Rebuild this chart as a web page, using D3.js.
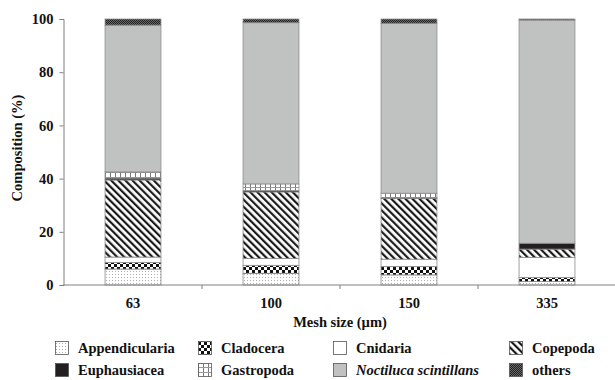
<!DOCTYPE html>
<html>
<head>
<meta charset="utf-8">
<script src="https://cdn.jsdelivr.net/npm/d3@7/dist/d3.min.js"></script>
<style>
  body { margin: 0; background: #fff; }
  svg { display: block; font-family: "Liberation Serif", "Times New Roman", serif; }
</style>
</head>
<body>
<div id="chart"></div>
<script>
// mesh sizes on the x axis
const meshSizes = ["63", "100", "150", "335"];
const groups = ["Appendicularia", "Cladocera", "Cnidaria", "Copepoda", "Euphausiacea", "Gastropoda", "Noctiluca scintillans", "others"];

// composition (%) per mesh size, bottom to top
const appendicularia = [6.0, 4.4, 3.8, 1.3];
const cladocera      = [2.5, 3.0, 3.2, 1.5];
const cnidaria       = [2.0, 2.6, 2.7, 7.6];
const copepoda       = [29.0, 25.0, 22.8, 3.1];
const euphausiacea   = [0.7, 0.5, 0.3, 2.2];
const gastropoda     = [2.3, 2.5, 1.7, 0.0];
const noctiluca      = [55.2, 60.6, 63.9, 83.9];
const others         = [2.3, 1.4, 1.6, 0.4];
const yTicks = [0, 20, 40, 60, 80, 100];

const series = [appendicularia, cladocera, cnidaria, copepoda, euphausiacea, gastropoda, noctiluca, others];
const rows = meshSizes.map((m, i) => {
    let r = {mesh: m};
    groups.forEach((g, j) => r[g] = series[j][i]);
    return r;
});

const W = 615, H = 380;
const FS = 14.5;
const svg = d3.select("#chart").append("svg").attr("width", W).attr("height", H);
const defs = svg.append("defs");

// fill patterns
let p;
p = defs.append("pattern").attr("id", "p0").attr("patternUnits", "userSpaceOnUse").attr("width", 3).attr("height", 3);
p.append("rect").attr("width", 3).attr("height", 3).attr("fill", "#fff");
p.append("rect").attr("x", 1).attr("y", 1).attr("width", 1).attr("height", 1).attr("fill", "#b0b0b0");

p = defs.append("pattern").attr("id", "p1").attr("patternUnits", "userSpaceOnUse").attr("width", 6).attr("height", 6);
p.append("rect").attr("width", 6).attr("height", 6).attr("fill", "#fff");
p.append("rect").attr("width", 3).attr("height", 3).attr("fill", "#111");
p.append("rect").attr("x", 3).attr("y", 3).attr("width", 3).attr("height", 3).attr("fill", "#111");

p = defs.append("pattern").attr("id", "p3").attr("patternUnits", "userSpaceOnUse").attr("width", 5).attr("height", 10)
    .attr("patternTransform", "rotate(-45)");
p.append("rect").attr("width", 5).attr("height", 10).attr("fill", "#fff");
p.append("rect").attr("width", 2.2).attr("height", 10).attr("fill", "#1a1a1a");

p = defs.append("pattern").attr("id", "p5").attr("patternUnits", "userSpaceOnUse").attr("width", 5).attr("height", 5);
p.append("rect").attr("width", 5).attr("height", 5).attr("fill", "#fff");
p.append("rect").attr("width", 1).attr("height", 5).attr("fill", "#777");
p.append("rect").attr("width", 5).attr("height", 1).attr("y", 2).attr("fill", "#999");

p = defs.append("pattern").attr("id", "p7").attr("patternUnits", "userSpaceOnUse").attr("width", 2).attr("height", 2);
p.append("rect").attr("width", 2).attr("height", 2).attr("fill", "#666");
p.append("rect").attr("width", 1).attr("height", 1).attr("fill", "#222");
p.append("rect").attr("x", 1).attr("y", 1).attr("width", 1).attr("height", 1).attr("fill", "#222");

const fills = ["url(#p0)", "url(#p1)", "#fff", "url(#p3)", "#231f20", "url(#p5)", "#c0c1c1", "url(#p7)"];

const x = d3.scaleBand().domain(meshSizes).range([64, 616]).paddingInner(0.595).paddingOuter(0.2975);
const y = d3.scaleLinear().domain([0, 100]).range([285, 19]);

const stacked = d3.stack().keys(groups)(rows);

svg.append("g").selectAll("g")
    .data(stacked)
    .enter().append("g")
    .attr("fill", (d, i) => fills[i])
    .selectAll("rect")
    .data(d => d.filter(s => s[1] - s[0] > 0))
    .enter().append("rect")
    .attr("x", d => x(d.data.mesh))
    .attr("width", x.bandwidth())
    .attr("y", d => y(d[1]))
    .attr("height", d => y(d[0]) - y(d[1]))
    .attr("stroke", "#8a8a8a")
    .attr("stroke-width", 0.8);

// y axis
const yAxis = svg.append("g").attr("transform", "translate(63.5,0)")
    .call(d3.axisLeft(y).tickValues(yTicks).tickSize(4).tickPadding(6));
yAxis.select(".domain").attr("stroke", "#808080");
yAxis.selectAll(".tick line").attr("stroke", "#808080");
yAxis.selectAll("text").attr("font-size", FS).attr("font-weight", "bold").attr("fill", "#111")
    .attr("font-family", "Liberation Serif");

// x axis: ticks between categories
const xg = svg.append("g").attr("transform", "translate(0,285)");
xg.append("line").attr("x1", 63).attr("x2", 616).attr("stroke", "#808080");
xg.selectAll(".sep").data(meshSizes.slice(1)).enter().append("line")
    .attr("x1", d => x(d) - x.step() * x.paddingInner() / 2)
    .attr("x2", d => x(d) - x.step() * x.paddingInner() / 2)
    .attr("y1", 0).attr("y2", 4).attr("stroke", "#808080");
xg.selectAll(".lab").data(meshSizes).enter().append("text")
    .attr("x", d => x(d) + x.bandwidth() / 2)
    .attr("y", 22.5)
    .attr("text-anchor", "middle")
    .attr("font-size", FS).attr("font-weight", "bold").attr("fill", "#111")
    .text(d => d);

svg.append("text").attr("x", 340).attr("y", 327).attr("text-anchor", "middle")
    .attr("font-size", FS).attr("font-weight", "bold").attr("fill", "#111")
    .text("Mesh size (\u00b5m)");

svg.append("text").attr("transform", "translate(22,148) rotate(-90)").attr("text-anchor", "middle")
    .attr("font-size", FS).attr("font-weight", "bold").attr("fill", "#111")
    .text("Composition (%)");

// legend
const colX = [55, 198, 333, 509];
const rowY = [348, 370];
const leg = svg.append("g").selectAll("g")
    .data(groups)
    .enter().append("g")
    .attr("transform", (d, i) => `translate(${colX[i % 4]},${rowY[Math.floor(i / 4)]})`);
leg.append("rect").attr("x", 0.5).attr("y", -6.5).attr("width", 13).attr("height", 13)
    .attr("fill", (d, i) => fills[i]).attr("stroke", "#555").attr("stroke-width", 0.8);
leg.append("text").attr("x", 23).attr("y", 5)
    .attr("font-size", FS).attr("font-weight", "bold").attr("fill", "#111")
    .attr("font-style", d => d.startsWith("Noctiluca") ? "italic" : null)
    .text(d => d);
</script>
</body>
</html>
